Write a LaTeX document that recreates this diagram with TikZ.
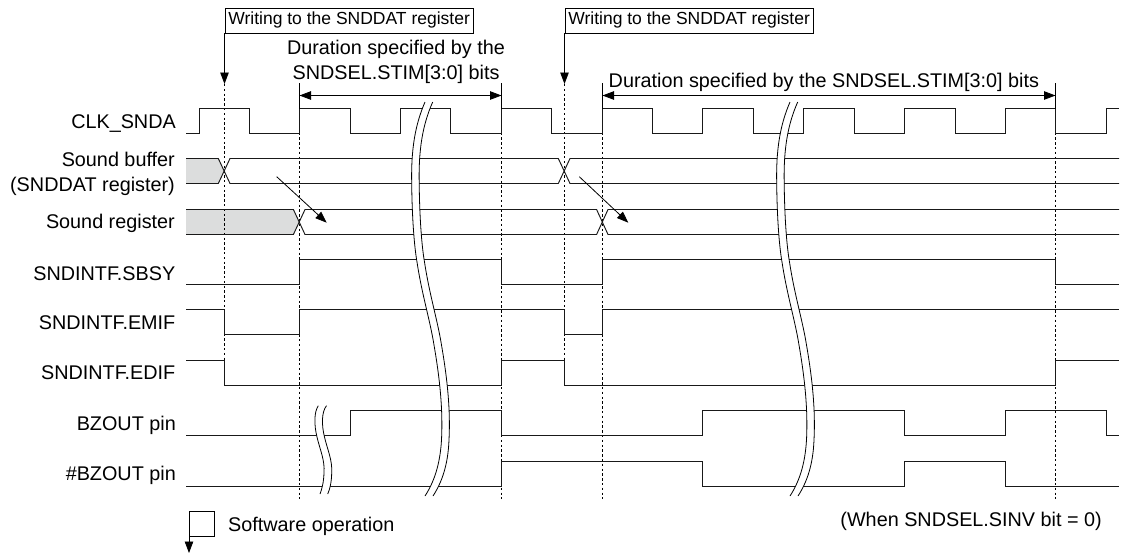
\documentclass[tikz,border=0pt]{standalone}
\usepackage{fontspec}
\setmainfont{Liberation Sans}
\usetikzlibrary{arrows.meta}
\definecolor{greyzone}{HTML}{DCDDDD}
\tikzset{
  wave/.style={line width=0.95pt,line join=miter,draw=black!90},
  thin line/.style={line width=0.8pt,draw=black},
  dots/.style={line width=0.8pt,draw=black,dash pattern=on 2.4pt off 2.4pt},
  tip/.style={-{Triangle[length=11.5pt,width=8.5pt]}},
  tips/.style={{Triangle[length=11.5pt,width=8.5pt]}-{Triangle[length=11.5pt,width=8.5pt]}},
  txt/.style={inner sep=0pt,font=\fontsize{19.8}{25}\selectfont},
  siglabel/.style={txt,anchor=base east},
  notebox/.style={inner sep=0pt,font=\fontsize{17.5}{21}\selectfont,draw=black,line width=0.8pt,anchor=north west,minimum width=248.5pt,minimum height=25pt},
}
\newcommand{\wavebreak}[1]{%
 \begin{scope}[xshift=#1]
  \fill[white] (425,102) .. controls (415,125) and (411,150) .. (411.7,183)
     .. controls (412,215) and (414,245) .. (417,262)
     .. controls (422,295) and (430,320) .. (434,345)
     .. controls (440,380) and (443,410) .. (441.5,440)
     .. controls (440,465) and (434,482) .. (425,496)
     -- (433,496) .. controls (442,482) and (448,465) .. (449,440)
     .. controls (450.5,410) and (447.5,380) .. (441.5,345)
     .. controls (437.5,320) and (429.5,295) .. (424.5,262)
     .. controls (421.5,245) and (419.5,215) .. (419.2,183)
     .. controls (418.5,150) and (422.5,125) .. (432.7,102) -- cycle;
  \draw[thin line] (425,102) .. controls (415,125) and (411,150) .. (411.7,183)
     .. controls (412,215) and (414,245) .. (417,262)
     .. controls (422,295) and (430,320) .. (434,345)
     .. controls (440,380) and (443,410) .. (441.5,440)
     .. controls (440,465) and (434,482) .. (425,496);
  \draw[thin line] (432.7,102) .. controls (422.5,125) and (418.5,150) .. (419.2,183)
     .. controls (419.5,215) and (421.5,245) .. (424.5,262)
     .. controls (429.5,295) and (437.5,320) .. (441.5,345)
     .. controls (447.5,380) and (450.5,410) .. (449,440)
     .. controls (448,465) and (442,482) .. (433,496);
 \end{scope}}
\begin{document}
\begin{tikzpicture}[x=1pt,y=-1pt]
\useasboundingbox (0,0) rectangle (1122,555);
% grey data regions
\fill[greyzone] (186,158.5) -- (218.3,158.5) -- (224.2,171) -- (218.3,183.5) -- (186,183.5) -- cycle;
\fill[greyzone] (186,209.5) -- (293.4,209.5) -- (299.3,222) -- (293.4,234.5) -- (186,234.5) -- cycle;
% dotted guides
\coordinate (w1) at (224.5,84);
\coordinate (w2) at (564.5,84);
\draw[dots] (w1) -- (224.5,360.5);
\draw[dots] (w2) -- (564.5,360.5);
\draw[dots] (299.5,108.5) -- (299.5,499);
\draw[dots] (501.5,108.5) -- (501.5,499);
\draw[dots] (602.5,108.5) -- (602.5,499);
\draw[dots] (1055.5,108.5) -- (1055.5,499);
% signals
\draw[wave] (186,133.5)--(199.5,133.5)--(199.5,108.5)--(249.5,108.5)--(249.5,133.5)--(299.5,133.5)--(299.5,108.5)--(350.5,108.5)--(350.5,133.5)--(400.5,133.5)--(400.5,108.5)--(450.5,108.5)--(450.5,133.5)--(501.5,133.5)--(501.5,108.5)--(551.5,108.5)--(551.5,133.5)--(602.5,133.5)--(602.5,108.5)--(652.5,108.5)--(652.5,133.5)--(702.5,133.5)--(702.5,108.5)--(753.5,108.5)--(753.5,133.5)--(803.5,133.5)--(803.5,108.5)--(854.5,108.5)--(854.5,133.5)--(904.5,133.5)--(904.5,108.5)--(955.5,108.5)--(955.5,133.5)--(1005.5,133.5)--(1005.5,108.5)--(1055.5,108.5)--(1055.5,133.5)--(1106,133.5)--(1106,108.5)--(1119,108.5);
% bus 1
\draw[wave] (186,158.5)--(218.3,158.5)--(230,183.5)--(558.3,183.5)--(570,158.5)--(1119,158.5);
\draw[wave] (186,183.5)--(218.3,183.5)--(230,158.5)--(558.3,158.5)--(570,183.5)--(1119,183.5);
% bus 2
\draw[wave] (186,209.5)--(293.4,209.5)--(305,234.5)--(596.6,234.5)--(608,209.5)--(1119,209.5);
\draw[wave] (186,234.5)--(293.4,234.5)--(305,209.5)--(596.6,209.5)--(608,234.5)--(1119,234.5);
% SBSY
\draw[wave] (186,284.5)--(299.5,284.5)--(299.5,259.5)--(501.5,259.5)--(501.5,284.5)--(602.5,284.5)--(602.5,259.5)--(1055.5,259.5)--(1055.5,284.5)--(1119,284.5);
% EMIF
\draw[wave] (186,309.5)--(224.5,309.5)--(224.5,334.5)--(299.5,334.5)--(299.5,309.5)--(564.5,309.5)--(564.5,334.5)--(602.5,334.5)--(602.5,309.5)--(1119,309.5);
% EDIF
\draw[wave] (186,360.5)--(224.5,360.5)--(224.5,385.5)--(501.5,385.5)--(501.5,360.5)--(564.5,360.5)--(564.5,385.5)--(1055.5,385.5)--(1055.5,360.5)--(1119,360.5);
% BZOUT
\draw[wave] (186,435.5)--(350.5,435.5)--(350.5,410.5)--(501.5,410.5)--(501.5,435.5)--(702.5,435.5)--(702.5,410.5)--(904.5,410.5)--(904.5,435.5)--(1005.5,435.5)--(1005.5,410.5)--(1106,410.5)--(1106,435.5)--(1119,435.5);
% #BZOUT
\draw[wave] (186,486.5)--(501.5,486.5)--(501.5,461.5)--(702.5,461.5)--(702.5,486.5)--(904.5,486.5)--(904.5,461.5)--(1005.5,461.5)--(1005.5,486.5)--(1119,486.5);
% transfer arrows
\coordinate (a1s) at (276.7,176.7); \coordinate (a1e) at (326.7,222.7);
\coordinate (a2s) at (579.3,176.7); \coordinate (a2e) at (628.3,222.7);
\draw[thin line,tip] (a1s) -- (a1e);
\draw[thin line,tip] (a2s) -- (a2e);
% breaks
\wavebreak{0}
\wavebreak{365}
\fill[white] (318.3,405.7) .. controls (314,412) and (314,425) .. (317,437) .. controls (320,450) and (325,460) .. (324,473) .. controls (323.7,482) and (322,489) .. (320,494) -- (327.7,494) .. controls (330,489) and (331.5,482) .. (331.7,473) .. controls (332.5,460) and (327.5,450) .. (324.5,437) .. controls (321.5,425) and (321.5,412) .. (326.5,405.7) -- cycle;
\draw[thin line] (318.3,405.7) .. controls (314,412) and (314,425) .. (317,437) .. controls (320,450) and (325,460) .. (324,473) .. controls (323.7,482) and (322,489) .. (320,494);
\draw[thin line] (326.5,405.7) .. controls (321.5,412) and (321.5,425) .. (324.5,437) .. controls (327.5,450) and (332.5,460) .. (331.7,473) .. controls (331.5,482) and (330,489) .. (327.7,494);
% note boxes + write arrows
\node[notebox] (n1) at (224.5,7.5) {Writing to the SNDDAT register};
\node[notebox] (n2) at (564.5,7.5) {Writing to the SNDDAT register};
\draw[thin line,tip] (n1.south west) -- (w1);
\draw[thin line,tip] (n2.south west) -- (w2);
% durations
\node[txt,anchor=base] (d1a) at (396,54.5) {Duration specified by the};
\node[txt,anchor=base] (d1b) at (396,79.5) {SNDSEL.STIM[3:0] bits};
\node[txt,anchor=base west] (d2) at (608.5,87) {Duration specified by the SNDSEL.STIM[3:0] bits};
\coordinate (t1) at (299.5,83); \coordinate (t2) at (501.5,83); \coordinate (t3) at (602.5,83); \coordinate (t4) at (1055.5,83);
\draw[thin line] (t1) -- (299.5,108.5);
\draw[thin line] (t2) -- (501.5,108.5);
\draw[thin line] (t3) -- (602.5,108.5);
\draw[thin line] (t4) -- (1055.5,108.5);
\draw[thin line,tips] (299.5,95.5) -- (501.5,95.5);
\draw[thin line,tips] (602.5,95.5) -- (1055.5,95.5);
% labels
\node[siglabel] (l1) at (176,128.3) {CLK\_SNDA};
\node[txt,align=right,anchor=east] (l2) at (175,173.4) {Sound buffer\\(SNDDAT register)};
\node[siglabel] (l3) at (175,228.3) {Sound register};
\node[siglabel] (l4) at (175.5,280) {SNDINTF.SBSY};
\node[siglabel] (l5) at (175.5,329.3) {SNDINTF.EMIF};
\node[siglabel] (l6) at (175.5,379.3) {SNDINTF.EDIF};
\node[siglabel] (l7) at (176,430.7) {BZOUT pin};
\node[siglabel] (l8) at (176,480.7) {\#BZOUT pin};
% legend
\node[draw=black,line width=0.8pt,minimum width=25pt,minimum height=25pt,inner sep=0pt,anchor=north west] (lg) at (189,510.5) {};
\coordinate (lgtip) at (189,553);
\draw[thin line,tip] (lg.south west) -- (lgtip);
\node[txt,anchor=base west] (lgt) at (228,531.7) {Software operation};
\node[txt,anchor=base east] (cond) at (1102,526.7) {(When SNDSEL.SINV bit = 0)};
\end{tikzpicture}
\end{document}
